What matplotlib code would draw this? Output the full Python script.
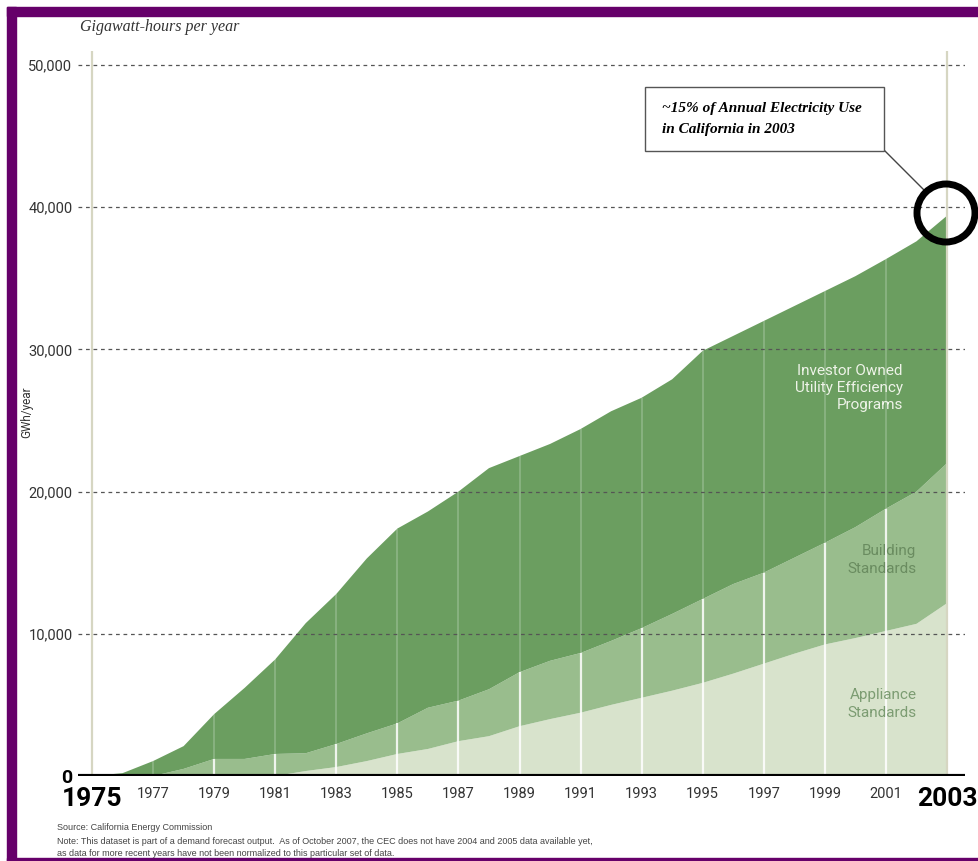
import numpy as np
import matplotlib.pyplot as plt
from matplotlib.patches import Rectangle, Ellipse
from matplotlib.lines import Line2D

years = list(range(1975, 2004))
appliance = [0, 0, 0, 0, 0, 0, 0, 350, 630, 1050, 1550, 1900, 2450, 2800, 3500,
             4000, 4450, 5000, 5500, 6000, 6550, 7200, 7900, 8600, 9250, 9700,
             10200, 10700, 12150]
building = [0, 0, 0, 500, 1200, 1200, 1550, 1250, 1620, 1950, 2150, 2900, 2850,
            3300, 3800, 4100, 4200, 4500, 4900, 5400, 5900, 6300, 6400, 6750,
            7150, 7800, 8600, 9300, 9850]
utility = [0, 200, 1050, 1600, 3150, 5000, 6650, 9150, 10550, 12300, 13700,
           13800, 14700, 15550, 15200, 15250, 15750, 16150, 16200, 16500, 17450,
           17450, 17700, 17700, 17700, 17650, 17550, 17600, 17400]
layer_names = ["Appliance\nStandards", "Building\nStandards",
               "Investor Owned\nUtility Efficiency\nPrograms"]
y_ticks = [0, 10000, 20000, 30000, 40000, 50000]
x_ticks = list(range(1975, 2004, 2))

NARROW = ['Roboto', 'DejaVu Sans']

W, H = 979, 861
fig = plt.figure(figsize=(W / 100, H / 100), dpi=100)
fig.patch.set_facecolor('white')

def fx(x):
    return x / W

def fy(y):
    return 1 - y / H

# purple frame
purple = '#66006a'
fig.patches.append(Rectangle((fx(7), fy(16)), 1, 9 / H, color=purple, transform=fig.transFigure, zorder=0))
fig.patches.append(Rectangle((fx(7), fy(861)), 8.5 / W, 854 / H, color=purple, transform=fig.transFigure, zorder=0))
fig.patches.append(Rectangle((fx(7), 0), 1, 3 / H, color=purple, transform=fig.transFigure, zorder=0))

# axes: 1975 at px 92, 2003 at px 947; 0 at px 776, 10000 per 142.2 px
ax_l, ax_r, ax_b, ax_t = 78, 965, 776, 51
ax = fig.add_axes([fx(ax_l), fy(ax_b), (ax_r - ax_l) / W, (ax_b - ax_t) / H])
ppy = (947 - 92) / 28
ax.set_xlim(1975 - (92 - ax_l) / ppy, 2003 + (ax_r - 947) / ppy)
ax.set_ylim(0, (ax_b - ax_t) / 142.2 * 10000)

cols = ['#d8e3cc', '#99bd8d', '#6b9e60']
ax.stackplot(years, appliance, building, utility, colors=cols, linewidth=0, zorder=1)

# year separators: bright in the light layers, faint in the dark one
mid_top = np.array(appliance) + np.array(building)
total = mid_top + np.array(utility)
for yr in x_ticks[1:-1]:
    i = years.index(yr)
    ax.vlines(yr, 0, mid_top[i], color='white', lw=1.6, alpha=0.85, zorder=2)
    ax.vlines(yr, mid_top[i], total[i], color='white', lw=1.4, alpha=0.2, zorder=2)
for yr in (1975, 2003):
    ax.axvline(yr, color='#d6d6c2', lw=1.6, zorder=2)

for v in y_ticks[1:]:
    ax.axhline(v, color='#555555', lw=0.9, dashes=(3, 3), zorder=3)
ax.axhline(0, color='black', lw=3, zorder=4)

for s in ax.spines.values():
    s.set_visible(False)
ax.set_facecolor('none')
ax.tick_params(length=0)

ax.set_yticks(y_ticks)
ax.set_yticklabels(['0'] + ['{:,}'.format(v) for v in y_ticks[1:]],
                   fontsize=10.5, color='#333333', family=NARROW)
yl = ax.get_yticklabels()
yl[0].set_fontsize(14)
yl[0].set_fontweight('bold')
yl[0].set_color('black')
ax.tick_params(axis='y', pad=4)

ax.set_xticks(x_ticks)
ax.set_xticklabels([str(y) for y in x_ticks], fontsize=10.5, color='#333333',
                   family=NARROW)
xl = ax.get_xticklabels()
for t in (xl[0], xl[-1]):
    t.set_fontsize(19)
    t.set_fontweight('bold')
    t.set_color('black')
ax.tick_params(axis='x', pad=8)

# layer labels
lbl_col = ['#7c9c72', '#6a8c60', '#eef3e8']
lbl_pos = [(5060, 2002.0), (15190, 2002.0), (27290, 2001.55)]
for name, c, (yv, xv) in zip(layer_names, lbl_col, lbl_pos):
    ax.text(xv, yv, name, ha='right', va='center', fontsize=11, color=c,
            family=NARROW, linespacing=1.3, zorder=5)

# annotation box and circle
circ_x, circ_y = 946, 213
fig.patches.append(Ellipse((fx(circ_x), fy(circ_y)), 58 / W, 58 / H, fill=False,
                           lw=5, ec='black', transform=fig.transFigure, zorder=6))
fig.patches.append(Rectangle((fx(645), fy(151)), 239 / W, 64 / H, fill=True, fc='white',
                             ec='#555555', lw=1.0, transform=fig.transFigure, zorder=6))
fig.lines.append(Line2D([fx(884), fx(926)], [fy(150), fy(192)], color='#444444', lw=1.0,
                        transform=fig.transFigure, zorder=6))
fig.text(fx(662), fy(119), '~15% of Annual Electricity Use\nin California in 2003',
         fontsize=11, style='italic', weight='bold', family='Liberation Serif',
         va='center', ha='left', linespacing=1.85, zorder=7)

# titles and notes
fig.text(fx(80), fy(27), 'Gigawatt-hours per year', fontsize=11.5, style='italic',
         family='Liberation Serif', color='#333333', va='center')
fig.text(fx(27), fy(412), 'GWh/year', rotation=90, fontsize=8.5, color='#333333',
         family=NARROW, va='center', ha='center')
fig.text(fx(57), fy(828), 'Source: California Energy Commission', fontsize=6.5,
         color='#444444', family='Liberation Sans', va='center')
fig.text(fx(57), fy(842), 'Note: This dataset is part of a demand forecast output.  As of October 2007, '
         'the CEC does not have 2004 and 2005 data available yet,', fontsize=6.5,
         color='#444444', family='Liberation Sans', va='center')
fig.text(fx(57), fy(854), 'as data for more recent years have not been normalized to this particular set of data.',
         fontsize=6.5, color='#444444', family='Liberation Sans', va='center')

fig.savefig('out.png', dpi=100)
